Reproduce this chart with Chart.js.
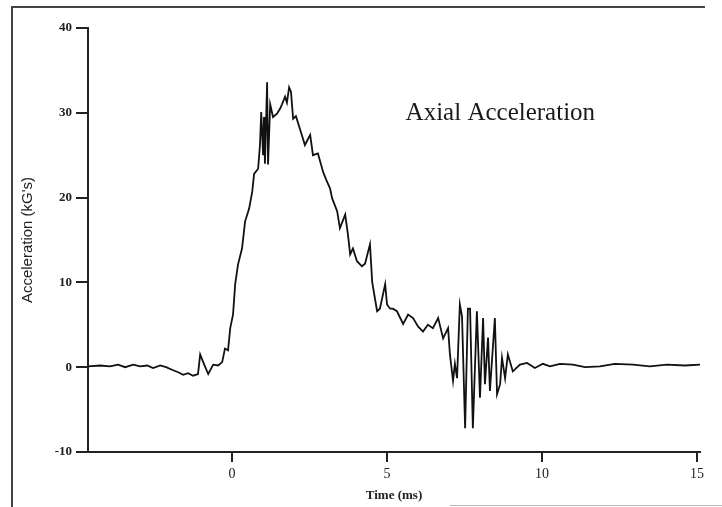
<!DOCTYPE html>
<html>
<head>
<meta charset="utf-8">
<script src="https://cdn.jsdelivr.net/npm/chart.js@4/dist/chart.umd.min.js"></script>
<style>
  html, body { margin: 0; padding: 0; background: #fff; }
  #wrap { width: 722px; height: 507px; position: relative; }
</style>
</head>
<body>
<div id="wrap"><canvas id="accelChart" width="722" height="507"></canvas></div>
<script>
// Axial acceleration trace
const timeMs = [
  -4.65, -4.26, -3.94, -3.68, -3.45, -3.19, -2.97, -2.74, -2.55, -2.32,
  -2.13, -1.94, -1.74, -1.58, -1.42, -1.26, -1.10, -1.03, -0.90, -0.77,
  -0.61, -0.45, -0.32, -0.23, -0.13, -0.06, 0.03, 0.10, 0.19, 0.32,
  0.42, 0.55, 0.65, 0.71, 0.84, 0.90, 0.94, 1.00, 1.03, 1.06,
  1.13, 1.16, 1.23, 1.32, 1.45, 1.55, 1.61, 1.71, 1.77, 1.84,
  1.90, 1.97, 2.06, 2.19, 2.35, 2.52, 2.61, 2.77, 2.94, 3.06,
  3.16, 3.23, 3.39, 3.48, 3.65, 3.74, 3.81, 3.90, 4.03, 4.19,
  4.29, 4.45, 4.52, 4.61, 4.68, 4.77, 4.94, 5.00, 5.10, 5.19,
  5.32, 5.52, 5.68, 5.84, 6.00, 6.16, 6.32, 6.48, 6.65, 6.81,
  6.97, 7.03, 7.13, 7.19, 7.26, 7.35, 7.42, 7.52, 7.61, 7.68,
  7.77, 7.90, 8.00, 8.10, 8.16, 8.26, 8.32, 8.48, 8.55, 8.65,
  8.71, 8.81, 8.90, 9.06, 9.29, 9.52, 9.77, 10.03, 10.26, 10.58,
  11.00, 11.39, 11.87, 12.35, 12.94, 13.48, 14.03, 14.61, 15.10
];
const accelKG = [
  0.1, 0.2, 0.1, 0.3, 0.0, 0.3, 0.1, 0.2, -0.1, 0.2,
  0.0, -0.3, -0.6, -0.9, -0.7, -1.0, -0.8, 1.5, 0.3, -0.8,
  0.3, 0.2, 0.6, 2.2, 2.0, 4.6, 6.2, 9.8, 12.1, 14.0,
  17.2, 18.7, 20.7, 22.8, 23.4, 26.2, 30.1, 25.0, 29.5, 24.0,
  33.6, 23.9, 31.0, 29.5, 29.9, 30.5, 31.0, 31.9, 31.2, 33.0,
  32.5, 29.3, 29.6, 28.1, 26.2, 27.4, 25.0, 25.2, 23.0, 21.9,
  21.1, 19.9, 18.4, 16.4, 18.0, 15.6, 13.3, 14.0, 12.5, 11.9,
  12.2, 14.5, 10.1, 8.1, 6.6, 6.9, 9.8, 7.4, 6.9, 6.9,
  6.6, 5.1, 6.2, 5.8, 4.8, 4.2, 5.0, 4.6, 5.8, 3.4,
  4.6, 1.5, -1.6, 0.4, -1.3, 7.4, 6.0, -7.2, 6.9, 6.9,
  -7.2, 6.6, -3.6, 5.8, -2.0, 3.5, -2.8, 5.8, -3.2, -2.0,
  1.1, -1.3, 1.5, -0.5, 0.3, 0.5, -0.1, 0.4, 0.1, 0.4,
  0.3, 0.0, 0.1, 0.4, 0.3, 0.1, 0.3, 0.2, 0.3
];
const xTicks = [0, 5, 10, 15];
const yTicks = [-10, 0, 10, 20, 30, 40];
const chartLabel = 'Axial Acceleration';

const serif = '"Liberation Serif", "DejaVu Serif", serif';

// scanned-page frame + in-plot caption
const pagePlugin = {
  id: 'page',
  beforeDraw(chart) {
    const c = chart.ctx;
    c.save();
    c.strokeStyle = '#444';
    c.lineWidth = 2;
    c.beginPath();
    c.moveTo(12, 507);
    c.lineTo(12, 7);
    c.lineTo(705, 7);
    c.stroke();
    c.strokeStyle = '#bbb';
    c.lineWidth = 1;
    c.beginPath();
    c.moveTo(450, 505.5);
    c.lineTo(722, 505.5);
    c.stroke();
    c.restore();
  },
  afterDraw(chart) {
    const c = chart.ctx;
    c.save();
    c.fillStyle = '#1a1a1a';
    c.font = '25px ' + serif;
    c.textBaseline = 'alphabetic';
    c.fillText(chartLabel, chart.scales.x.getPixelForValue(5.6), chart.scales.y.getPixelForValue(29.1));
    c.restore();
  }
};

const ctx = document.getElementById('accelChart').getContext('2d');
new Chart(ctx, {
  type: 'line',
  data: {
    datasets: [{
      data: timeMs.map((t, i) => ({ x: t, y: accelKG[i] })),
      borderColor: '#111',
      borderWidth: 1.8,
      pointRadius: 0,
      tension: 0,
      fill: false
    }]
  },
  options: {
    responsive: false,
    animation: false,
    layout: { padding: { left: 0, top: 28, right: 22, bottom: 0 } },
    plugins: { legend: { display: false }, tooltip: { enabled: false } },
    scales: {
      x: {
        type: 'linear',
        min: -4.65,
        max: 15.1,
        afterBuildTicks: s => { s.ticks = xTicks.map(v => ({ value: v })); },
        afterFit: s => { s.height = 55; },
        border: { display: true, color: '#222', width: 2 },
        grid: { drawOnChartArea: false, drawTicks: true, tickLength: 10, color: '#222', lineWidth: 2 },
        ticks: { color: '#222', padding: 4, font: { family: serif, size: 14 }, maxRotation: 0 },
        title: { display: true, text: 'Time (ms)', color: '#222', padding: { top: 0, bottom: 4 }, font: { family: serif, size: 13, weight: 'bold' } }
      },
      y: {
        min: -10,
        max: 40,
        afterBuildTicks: s => { s.ticks = yTicks.map(v => ({ value: v })); },
        afterFit: s => { s.width = 88; },
        border: { display: true, color: '#222', width: 2 },
        grid: { drawOnChartArea: false, drawTicks: true, tickLength: 12, color: '#222', lineWidth: 2 },
        ticks: { color: '#222', padding: 4, font: { family: serif, size: 13, weight: 'bold' } },
        title: { display: true, text: "Acceleration (kG's)", color: '#222', padding: { top: 19, bottom: 4 }, font: { family: '"Liberation Sans", Arial, sans-serif', size: 15 } }
      }
    }
  },
  plugins: [pagePlugin]
});
</script>
</body>
</html>
